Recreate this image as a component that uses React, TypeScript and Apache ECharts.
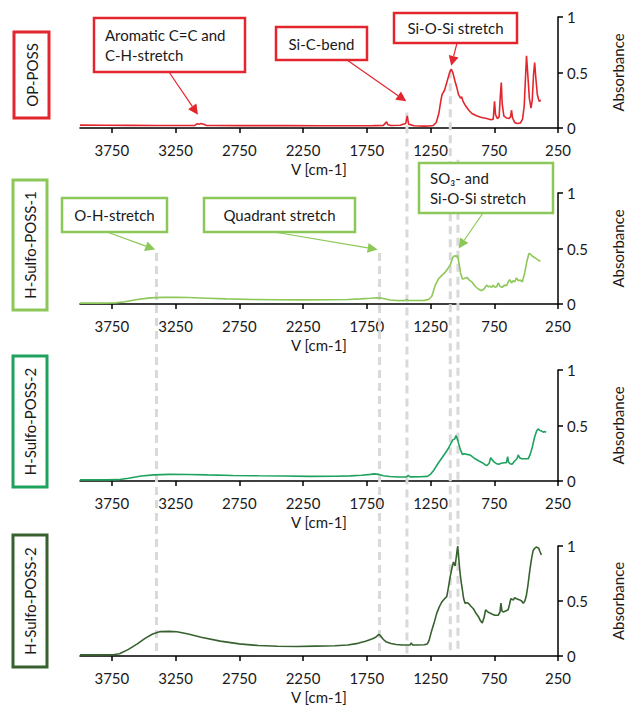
import { useEffect, useRef } from "react";
import * as echarts from "echarts";

// ---------- data ----------
const X_TICKS = [3750, 3250, 2750, 2250, 1750, 1250, 750, 250];
const Y_TICKS = [0, 0.5, 1];
const PANEL_LABELS = ["OP-POSS", "H-Sulfo-POSS-1", "H-Sulfo-POSS-2", "H-Sulfo-POSS-2"];
const X_NAME = "V [cm-1]";
const Y_NAME = "Absorbance";

// [wavenumber cm-1, absorbance]
const OP_POSS: [number, number][] = [
  [4000, 0.026], [3800, 0.025], [3600, 0.024], [3400, 0.023], [3200, 0.022], [3100, 0.024],
  [3080, 0.038], [3065, 0.034], [3050, 0.04], [3030, 0.033], [3010, 0.024], [2950, 0.022],
  [2700, 0.021], [2400, 0.021], [2100, 0.02], [1900, 0.02], [1700, 0.021], [1620, 0.024],
  [1595, 0.055], [1585, 0.03], [1560, 0.022], [1490, 0.025], [1445, 0.04], [1433, 0.11],
  [1422, 0.035], [1380, 0.02], [1300, 0.017], [1260, 0.018], [1230, 0.022], [1205, 0.05],
  [1185, 0.13], [1170, 0.24], [1160, 0.3], [1140, 0.34], [1120, 0.42], [1100, 0.5],
  [1088, 0.53], [1075, 0.5], [1060, 0.43], [1045, 0.37], [1030, 0.3], [1015, 0.27],
  [1005, 0.28], [995, 0.24], [975, 0.2], [950, 0.16], [925, 0.13], [890, 0.11],
  [850, 0.095], [810, 0.085], [775, 0.075], [758, 0.08], [748, 0.24], [740, 0.12],
  [725, 0.085], [712, 0.1], [702, 0.3], [695, 0.41], [688, 0.22], [675, 0.11],
  [655, 0.09], [635, 0.085], [622, 0.1], [615, 0.16], [606, 0.09], [590, 0.05],
  [570, 0.04], [545, 0.045], [528, 0.08], [515, 0.2], [505, 0.45], [497, 0.65],
  [488, 0.5], [475, 0.27], [462, 0.18], [452, 0.25], [442, 0.48], [433, 0.59],
  [424, 0.45], [412, 0.3], [398, 0.24], [385, 0.25],
];

const H_SULFO_POSS_1: [number, number][] = [
  [4000, 0.008], [3850, 0.008], [3720, 0.01], [3650, 0.02], [3550, 0.04], [3450, 0.055],
  [3350, 0.06], [3250, 0.061], [3150, 0.058], [3000, 0.052], [2850, 0.046], [2650, 0.041],
  [2450, 0.038], [2250, 0.037], [2050, 0.038], [1900, 0.041], [1800, 0.046], [1720, 0.052],
  [1670, 0.056], [1640, 0.054], [1610, 0.047], [1570, 0.036], [1520, 0.031], [1460, 0.03],
  [1435, 0.04], [1425, 0.032], [1380, 0.031], [1300, 0.033], [1265, 0.04], [1240, 0.07],
  [1213, 0.17], [1185, 0.23], [1160, 0.26], [1140, 0.28], [1120, 0.31], [1096, 0.35],
  [1075, 0.42], [1060, 0.435], [1048, 0.428], [1038, 0.435], [1025, 0.36], [1015, 0.28],
  [1000, 0.225], [985, 0.23], [966, 0.24], [945, 0.215], [927, 0.2], [900, 0.16],
  [875, 0.135], [850, 0.12], [830, 0.135], [810, 0.17], [795, 0.155], [784, 0.16],
  [770, 0.15], [758, 0.17], [745, 0.15], [732, 0.155], [718, 0.19], [706, 0.16],
  [688, 0.15], [670, 0.17], [654, 0.165], [640, 0.2], [628, 0.22], [615, 0.19],
  [602, 0.21], [588, 0.2], [576, 0.235], [560, 0.21], [545, 0.215], [530, 0.2],
  [511, 0.28], [495, 0.38], [478, 0.455], [468, 0.45], [450, 0.43], [430, 0.415],
  [410, 0.4], [388, 0.385],
];

const H_SULFO_POSS_2: [number, number][] = [
  [4000, 0.01], [3800, 0.01], [3700, 0.012], [3620, 0.025], [3520, 0.045], [3420, 0.055],
  [3300, 0.06], [3150, 0.059], [3000, 0.055], [2800, 0.05], [2600, 0.047], [2400, 0.045],
  [2200, 0.042], [2000, 0.043], [1880, 0.046], [1790, 0.052], [1720, 0.06], [1690, 0.064],
  [1660, 0.06], [1620, 0.048], [1570, 0.04], [1500, 0.036], [1440, 0.037], [1425, 0.05],
  [1410, 0.037], [1330, 0.038], [1275, 0.042], [1250, 0.06], [1223, 0.1], [1190, 0.16],
  [1160, 0.21], [1135, 0.25], [1112, 0.29], [1090, 0.34], [1075, 0.37], [1060, 0.38],
  [1050, 0.41], [1040, 0.38], [1028, 0.33], [1015, 0.28], [1000, 0.24], [985, 0.245],
  [965, 0.24], [940, 0.235], [923, 0.22], [900, 0.2], [870, 0.18], [844, 0.165],
  [820, 0.145], [807, 0.14], [790, 0.16], [778, 0.21], [766, 0.19], [750, 0.17],
  [730, 0.155], [715, 0.15], [695, 0.16], [672, 0.165], [655, 0.165], [645, 0.22],
  [638, 0.17], [625, 0.155], [610, 0.15], [590, 0.18], [572, 0.2], [562, 0.235],
  [552, 0.21], [535, 0.2], [505, 0.2], [484, 0.2], [468, 0.24], [453, 0.3],
  [435, 0.39], [418, 0.45], [406, 0.47], [392, 0.455], [378, 0.45], [365, 0.44],
  [355, 0.445], [343, 0.44],
];

const H_SULFO_POSS_2B: [number, number][] = [
  [4000, 0.01], [3850, 0.01], [3740, 0.011], [3690, 0.02], [3620, 0.06], [3550, 0.11],
  [3490, 0.16], [3430, 0.2], [3370, 0.222], [3300, 0.224], [3240, 0.22], [3150, 0.2],
  [3050, 0.17], [2900, 0.135], [2750, 0.11], [2600, 0.095], [2450, 0.088], [2300, 0.087],
  [2150, 0.09], [2000, 0.093], [1900, 0.1], [1820, 0.115], [1760, 0.135], [1710, 0.155],
  [1680, 0.17], [1656, 0.197], [1640, 0.18], [1620, 0.15], [1600, 0.13], [1560, 0.113],
  [1520, 0.104], [1470, 0.1], [1430, 0.1], [1410, 0.1], [1401, 0.12], [1392, 0.1],
  [1350, 0.1], [1300, 0.102], [1275, 0.11], [1262, 0.14], [1240, 0.235], [1220, 0.31],
  [1201, 0.39], [1180, 0.45], [1162, 0.49], [1140, 0.52], [1123, 0.54], [1110, 0.62],
  [1096, 0.72], [1082, 0.8], [1070, 0.855], [1062, 0.83], [1057, 0.82], [1048, 0.9],
  [1037, 1.0], [1028, 0.88], [1018, 0.75], [1008, 0.66], [1000, 0.6], [990, 0.52],
  [979, 0.48], [965, 0.485], [953, 0.48], [935, 0.455], [914, 0.43], [895, 0.39],
  [875, 0.36], [858, 0.32], [844, 0.3], [830, 0.35], [818, 0.42], [800, 0.4],
  [784, 0.39], [765, 0.38], [745, 0.37], [719, 0.37], [705, 0.4], [698, 0.48],
  [690, 0.41], [680, 0.4], [660, 0.41], [641, 0.42], [630, 0.47], [620, 0.52],
  [600, 0.51], [590, 0.53], [576, 0.52], [550, 0.51], [535, 0.5], [523, 0.48],
  [510, 0.5], [498, 0.55], [485, 0.65], [471, 0.78], [458, 0.88], [445, 0.96],
  [432, 0.98], [420, 0.99], [410, 0.985], [401, 0.98], [392, 0.95], [380, 0.92],
];

const SERIES_DATA = [OP_POSS, H_SULFO_POSS_1, H_SULFO_POSS_2, H_SULFO_POSS_2B];

// band marker lines: wavenumber, panel where the line starts and absorbance there
const BAND_LINES: { wn: number; panel: number; abs: number }[] = [
  { wn: 3400, panel: 1, abs: 0.46 },
  { wn: 1650, panel: 1, abs: 0.46 },
  { wn: 1435, panel: 0, abs: 0.14 },
  { wn: 1095, panel: 0, abs: 0.52 },
  { wn: 1035, panel: 1, abs: 1.3 },
];

// annotation labels and the spectral point each arrow points to
const ANNOTATIONS = [
  { panel: 0, lines: ["Aromatic C=C and", "C-H-stretch"], tipWn: 3075, tipAbs: 0.12 },
  { panel: 0, lines: ["Si-C-bend"], tipWn: 1440, tipAbs: 0.24 },
  { panel: 0, lines: ["Si-O-Si stretch"], tipWn: 1088, tipAbs: 0.56 },
  { panel: 1, lines: ["O-H-stretch"], tipWn: 3410, tipAbs: 0.49 },
  { panel: 1, lines: ["Quadrant stretch"], tipWn: 1665, tipAbs: 0.49 },
  { panel: 1, lines: ["SO₃- and", "Si-O-Si stretch"], tipWn: 1030, tipAbs: 0.5 },
];

// ---------- layout / style ----------
const COLORS = ["#e3262d", "#8cc858", "#1ea25e", "#37612f"];
const BOX_COLORS = ["#e3262d", "#8cc858", "#1ea25e", "#37612f"];
const FONT_FAMILY = "Lato, 'Noto Sans', sans-serif";
const TEXT_COLOR = "#1a1a1a";
const GRID_LEFT = 80;
const GRID_RIGHT = 73;
const PANEL_H = 111;
const PANEL_BOTTOM = [128, 304, 481, 657];
// panel label boxes: [x, y, w, h]
const LABEL_BOXES = [
  [14, 32, 35, 86],
  [13, 180, 34, 130],
  [13, 356, 34, 131],
  [13, 535, 34, 132],
];
// annotation boxes [x, y, w, h], alignment and arrow start
const ANN_LAYOUT = [
  { box: [94, 18, 151, 54], align: "left", from: [169, 72] },
  { box: [276, 27, 91, 33], align: "center", from: [347, 60] },
  { box: [394, 13, 123, 30], align: "center", from: [457, 43] },
  { box: [62, 198, 105, 34], align: "center", from: [107, 232] },
  { box: [204, 198, 151, 34], align: "center", from: [274, 232] },
  { box: [419, 163, 134, 50], align: "left", from: [483, 213] },
];

function arrow(x1: number, y1: number, x2: number, y2: number, color: string) {
  const dx = x2 - x1;
  const dy = y2 - y1;
  const L = Math.hypot(dx, dy);
  const ux = dx / L;
  const uy = dy / L;
  const hl = 10;
  const hw = 5;
  const bx = x2 - ux * hl;
  const by = y2 - uy * hl;
  return [
    {
      type: "line",
      silent: true,
      z: 20,
      shape: { x1, y1, x2: bx, y2: by },
      style: { stroke: color, lineWidth: 1.2 },
    },
    {
      type: "polygon",
      silent: true,
      z: 20,
      shape: {
        points: [
          [x2, y2],
          [bx - uy * hw, by + ux * hw],
          [bx + uy * hw, by - ux * hw],
        ],
      },
      style: { fill: color },
    },
  ];
}

export default function App() {
  const ref = useRef<HTMLDivElement>(null);

  useEffect(() => {
    if (!ref.current) return;
    const chart = echarts.init(ref.current, null, { renderer: "svg" });

    const grids = PANEL_BOTTOM.map((b) => ({
      left: GRID_LEFT,
      right: GRID_RIGHT,
      top: b - PANEL_H,
      height: PANEL_H,
      containLabel: false,
    }));

    const labelStyle = { fontFamily: FONT_FAMILY, fontSize: 15, color: TEXT_COLOR };

    const xAxes = PANEL_BOTTOM.map((_, i) => ({
      type: "value",
      gridIndex: i,
      min: 250,
      max: 4000,
      interval: 500,
      inverse: true,
      name: X_NAME,
      nameLocation: "middle",
      nameGap: 33,
      nameTextStyle: { ...labelStyle },
      axisLine: { show: true, onZero: false, lineStyle: { color: "#000", width: 1.5 } },
      axisTick: {
        show: true,
        inside: false,
        length: 5,
        customValues: X_TICKS,
        lineStyle: { color: "#000", width: 1.5 },
      },
      axisLabel: {
        ...labelStyle,
        margin: 14,
        customValues: X_TICKS,
        formatter: (v: number) => String(v),
      },
      splitLine: { show: false },
    }));

    const yAxes = PANEL_BOTTOM.map((_, i) => ({
      type: "value",
      gridIndex: i,
      position: "right",
      min: 0,
      max: 1,
      interval: 0.5,
      name: Y_NAME,
      nameLocation: "middle",
      nameGap: 52,
      nameRotate: 90,
      nameTextStyle: { ...labelStyle },
      axisLine: { show: true, onZero: false, lineStyle: { color: "#000", width: 1.5 } },
      axisTick: { show: true, inside: false, length: 5, lineStyle: { color: "#000", width: 1.5 } },
      axisLabel: {
        ...labelStyle,
        margin: 9,
        customValues: Y_TICKS,
        formatter: (v: number) => String(v),
      },
      splitLine: { show: false },
    }));

    const series = SERIES_DATA.map((d, i) => ({
      type: "line",
      xAxisIndex: i,
      yAxisIndex: i,
      data: d,
      showSymbol: false,
      symbol: "none",
      lineStyle: { color: COLORS[i], width: 1.6 },
      z: 5,
    }));

    chart.setOption({
      animation: false,
      backgroundColor: "#ffffff",
      grid: grids,
      xAxis: xAxes,
      yAxis: yAxes,
      series,
    });

    const toPx = (panel: number, wn: number, a: number) =>
      chart.convertToPixel({ gridIndex: panel } as any, [wn, a]) as number[];

    const graphics: any[] = [];

    // dashed band lines
    BAND_LINES.forEach((b) => {
      const [x, yTop] = toPx(b.panel, b.wn, b.abs);
      const [, yBot] = toPx(3, b.wn, 0);
      graphics.push({
        type: "line",
        silent: true,
        z: 1,
        shape: { x1: x, y1: yTop, x2: x, y2: yBot - 2 },
        style: { stroke: "#d9d9d9", lineWidth: 3, lineDash: [8, 5] },
      });
    });

    // panel label boxes
    PANEL_LABELS.forEach((lab, i) => {
      const [x, y, w, h] = LABEL_BOXES[i];
      graphics.push({
        type: "rect",
        silent: true,
        z: 10,
        shape: { x, y, width: w, height: h },
        style: { fill: "#fff", stroke: BOX_COLORS[i], lineWidth: 3 },
      });
      graphics.push({
        type: "text",
        silent: true,
        z: 11,
        x: x + w / 2,
        y: y + h / 2,
        rotation: Math.PI / 2,
        style: {
          text: lab,
          font: `15px ${FONT_FAMILY}`,
          fill: TEXT_COLOR,
          textAlign: "center",
          textVerticalAlign: "middle",
        },
      });
    });

    // annotations
    ANNOTATIONS.forEach((a, i) => {
      const lay = ANN_LAYOUT[i];
      const [x, y, w, h] = lay.box;
      const color = BOX_COLORS[a.panel];
      const [tx, ty] = toPx(a.panel, a.tipWn, a.tipAbs);
      graphics.push(...arrow(lay.from[0], lay.from[1], tx, ty, color));
      graphics.push({
        type: "rect",
        silent: true,
        z: 21,
        shape: { x, y, width: w, height: h },
        style: { fill: "#fff", stroke: color, lineWidth: 2.5 },
      });
      graphics.push({
        type: "text",
        silent: true,
        z: 22,
        x: lay.align === "left" ? x + 11 : x + w / 2,
        y: y + h / 2,
        style: {
          text: a.lines.join("\n"),
          font: `15px ${FONT_FAMILY}`,
          lineHeight: 20,
          fill: TEXT_COLOR,
          textAlign: lay.align,
          textVerticalAlign: "middle",
        },
      });
    });

    chart.setOption({ graphic: graphics });

    return () => chart.dispose();
  }, []);

  return (
    <div
      ref={ref}
      style={{ position: "absolute", left: 0, top: 0, width: 633, height: 705, background: "#fff" }}
    />
  );
}
